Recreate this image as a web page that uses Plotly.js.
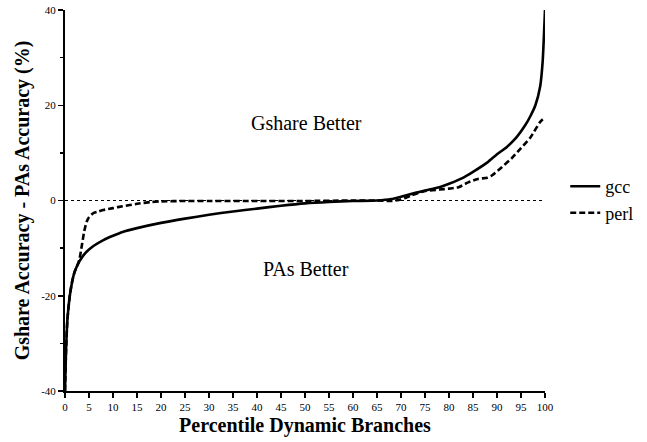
<!DOCTYPE html>
<html>
<head>
<meta charset="utf-8">
<script src="https://cdn.plot.ly/plotly-3.0.1.min.js"></script>
<style>html,body{margin:0;padding:0;background:#fff;}#chart{width:647px;height:442px;}</style>
</head>
<body>
<div id="chart"></div>
<script>
// Percentile of dynamic branches (x) and accuracy difference in % (y)
const gccX = [0, 0.2, 0.5, 1, 1.5, 2, 3, 4, 5, 6, 8, 10, 12, 15, 20, 25, 30, 35, 40, 45, 50, 55, 60, 65, 68, 70, 73, 75, 78, 80, 83, 85, 88, 90, 92, 94, 96, 97, 98, 99, 99.5, 100];
const gccY = [-40, -32, -25, -20, -17, -15, -12.8, -11.3, -10.3, -9.5, -8.3, -7.4, -6.6, -5.8, -4.7, -3.8, -3.0, -2.3, -1.7, -1.1, -0.6, -0.3, -0.1, 0, 0.3, 0.8, 1.6, 2.1, 2.8, 3.5, 4.8, 6.0, 8.0, 9.7, 11.2, 13.2, 16.0, 17.8, 20.0, 24.0, 29.0, 40.0];

const perlX = [0, 0.2, 0.5, 1, 1.5, 2, 2.5, 3, 3.5, 4, 4.5, 5, 6, 7, 8, 10, 12, 15, 18, 20, 25, 30, 40, 50, 60, 65, 68, 70, 72, 75, 78, 80, 82, 84, 86, 88, 89, 91, 93, 95, 97, 99, 100];
const perlY = [-40, -32, -25, -20, -17, -15, -13.8, -12.4, -9.5, -6.5, -4.5, -3.5, -2.6, -2.3, -2.0, -1.6, -1.2, -0.7, -0.3, -0.2, -0.1, -0.1, -0.1, -0.1, 0, 0, -0.1, 0.2, 1.0, 2.0, 2.3, 2.5, 2.8, 3.8, 4.5, 4.8, 5.3, 7.0, 8.8, 11.0, 13.3, 16.5, 17.5];

const xTicks = [0,5,10,15,20,25,30,35,40,45,50,55,60,65,70,75,80,85,90,95,100];
const yTicks = [-40,-20,0,20,40];

const serif = "Liberation Serif, Times New Roman, serif";

const traces = [
  {x: gccX, y: gccY, name: 'gcc', mode: 'lines', line: {color: '#000', width: 2.6, shape: 'spline', smoothing: 0.6}},
  {x: perlX, y: perlY, name: 'perl', mode: 'lines', line: {color: '#000', width: 2.6, dash: '6px,3px', shape: 'spline', smoothing: 0.6}}
];

const layout = {
  width: 647, height: 442,
  margin: {l: 65, r: 101, t: 10, b: 51},
  paper_bgcolor: '#fff', plot_bgcolor: '#fff',
  font: {family: serif, color: '#000'},
  showlegend: true,
  legend: {x: 1.04, xanchor: 'left', y: 0.585, yanchor: 'top', font: {size: 18, family: serif}, bgcolor: 'rgba(0,0,0,0)', itemwidth: 30},
  xaxis: {
    range: [0, 100], tickvals: xTicks, ticktext: xTicks.map(String),
    ticks: 'outside', ticklen: 5, tickwidth: 1.5, tickcolor: '#000',
    showline: true, linecolor: '#000', linewidth: 2, showgrid: false, zeroline: false,
    tickfont: {size: 11, family: serif},
    title: {text: '<b>Percentile Dynamic Branches</b>', font: {size: 20, family: serif}, standoff: 6}
  },
  yaxis: {
    range: [-40, 40], tickvals: yTicks, ticktext: yTicks.map(String),
    ticks: 'outside', ticklen: 5, tickwidth: 1.5, tickcolor: '#000',
    minor: {dtick: 10, ticks: 'outside', ticklen: 3, tickcolor: '#000'},
    showline: true, linecolor: '#000', linewidth: 2, showgrid: false, zeroline: false,
    tickfont: {size: 11, family: serif},
    title: {text: '<b>Gshare Accuracy - PAs Accuracy (%)</b>', font: {size: 20, family: serif}, standoff: 6}
  },
  shapes: [
    {type: 'line', xref: 'x', yref: 'y', x0: 0, x1: 100, y0: 0, y1: 0, line: {color: '#000', width: 1, dash: 'dot'}, layer: 'below'}
  ],
  annotations: [
    {x: 50.3, y: 16.2, xref: 'x', yref: 'y', text: 'Gshare Better', showarrow: false, font: {size: 20, family: serif}},
    {x: 50.3, y: -14.3, xref: 'x', yref: 'y', text: 'PAs Better', showarrow: false, font: {size: 20, family: serif}}
  ]
};

Plotly.newPlot('chart', traces, layout, {displayModeBar: false, staticPlot: true});
</script>
</body>
</html>
